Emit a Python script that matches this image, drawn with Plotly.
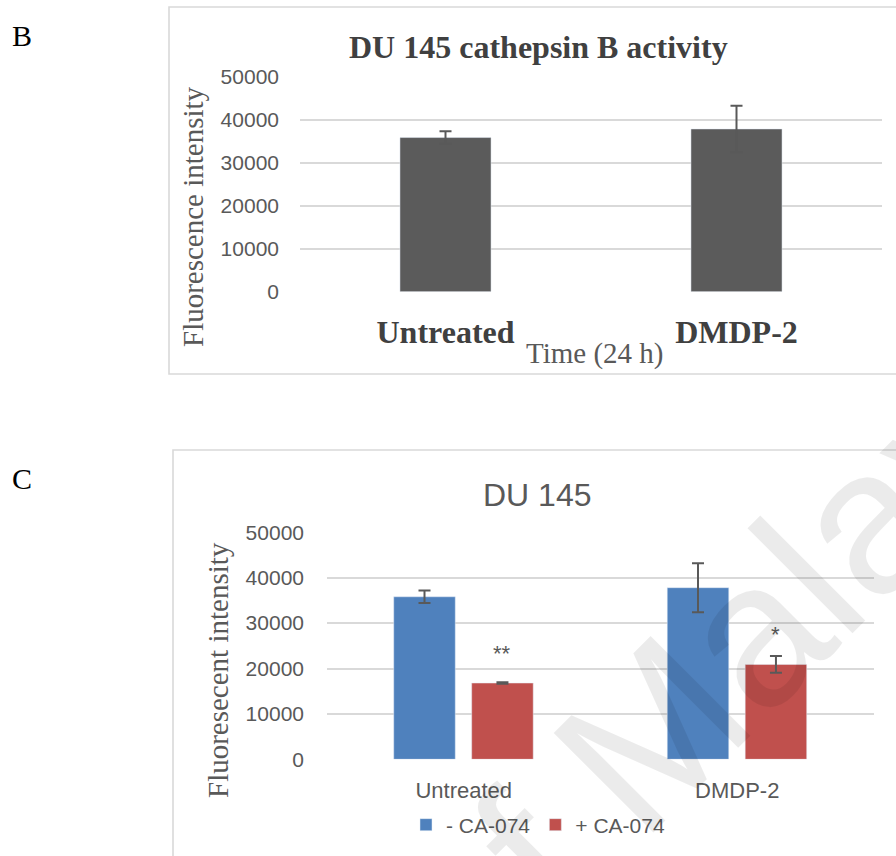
import plotly.graph_objects as go

W, H = 896, 856


def px(x):
    return x / W


def py(y):
    return 1 - y / H


# ---------------- data ----------------
categories = ["Untreated", "DMDP-2"]
b_values = [35900, 37900]
b_errors = [1450, 5400]
c_minus = [35800, 37800]
c_minus_err = [1400, 5400]
c_plus = [16800, 20900]
c_plus_err = [150, 1850]
c_sig = ["**", "*"]
y_ticks = [0, 10000, 20000, 30000, 40000, 50000]
series_names = ["- CA-074", "+ CA-074"]

# styles
SANS = "Liberation Sans"
SERIF = "Liberation Serif"
GRAY = "#595959"
GRID = "#d9d9d9"
C_W = 0.225
C_OFF = [-0.256, 0.029]
SIG_SHIFT = [14, 7]

fig = go.Figure()

fig.add_trace(go.Bar(
    x=categories, y=b_values, width=0.313,
    marker=dict(color="#5b5b5b"),
    error_y=dict(type="data", array=b_errors, color=GRAY, thickness=2, width=6),
    xaxis="x", yaxis="y", showlegend=False,
))

fig.add_trace(go.Bar(
    x=categories, y=c_minus, name=series_names[0], width=C_W, offset=C_OFF[0],
    marker=dict(color="#4f81bd"),
    error_y=dict(type="data", array=c_minus_err, color=GRAY, thickness=2, width=6),
    xaxis="x2", yaxis="y2",
))
fig.add_trace(go.Bar(
    x=categories, y=c_plus, name=series_names[1], width=C_W, offset=C_OFF[1],
    marker=dict(color="#c0504d"),
    error_y=dict(type="data", array=c_plus_err, color=GRAY, thickness=2, width=6),
    xaxis="x2", yaxis="y2",
))

yax = dict(range=[0, 50000], tickvals=y_ticks, ticktext=[str(v) for v in y_ticks],
           showgrid=True, gridcolor=GRID, gridwidth=1.6, zeroline=False, showline=False,
           ticks="", tickfont=dict(family=SANS, size=21, color=GRAY), ticklabelstandoff=20,
           automargin=False)

fig.update_layout(
    width=W, height=H, autosize=False,
    margin=dict(l=0, r=0, t=0, b=0, pad=0),
    paper_bgcolor="white", plot_bgcolor="white",
    barmode="group",
    xaxis=dict(domain=[px(300), px(882)], anchor="y", type="category",
               showgrid=False, zeroline=False, showline=False, ticks="", automargin=False,
               tickfont=dict(family=SERIF, size=32, color="#404040", weight="bold"),
               ticklabelstandoff=18),
    yaxis=dict(domain=[py(291.7), py(77)], anchor="x", **yax),
    xaxis2=dict(domain=[px(327), px(874)], anchor="y2", type="category",
                showgrid=False, zeroline=False, showline=False, ticks="", automargin=False,
                tickfont=dict(family=SANS, size=22, color=GRAY),
                ticklabelstandoff=16),
    yaxis2=dict(domain=[py(759.3), py(532.3)], anchor="x2", **dict(yax, ticklabelstandoff=22)),
    legend=dict(orientation="h", x=px(538), xanchor="center", y=py(825), yanchor="middle",
                font=dict(family=SANS, size=21, color=GRAY), bgcolor="rgba(0,0,0,0)",
                traceorder="normal"),
    showlegend=True,
)

# panel frames
fig.add_shape(type="rect", xref="paper", yref="paper", x0=px(169), x1=1.02, y0=py(374), y1=py(7),
              line=dict(color=GRID, width=1.6), layer="below")
fig.add_shape(type="rect", xref="paper", yref="paper", x0=px(173), x1=1.02, y0=-0.02, y1=py(450),
              line=dict(color=GRID, width=1.6), layer="below")

ann = []
ann.append(dict(text="B", x=px(22), y=py(36), font=dict(family=SERIF, size=30, color="black")))
ann.append(dict(text="C", x=px(22), y=py(478), font=dict(family=SERIF, size=30, color="black")))
ann.append(dict(text="<b>DU 145 cathepsin B activity</b>", x=px(538), y=py(47),
                font=dict(family=SERIF, size=32, color="#404040")))
ann.append(dict(text="DU 145", x=px(537), y=py(495), font=dict(family=SANS, size=32, color=GRAY)))
ann.append(dict(text="Fluorescence intensity", x=px(193), y=py(217), textangle=-90,
                font=dict(family=SERIF, size=29, color=GRAY)))
ann.append(dict(text="Fluoresecent intensity", x=px(218), y=py(670), textangle=-90,
                font=dict(family=SERIF, size=29, color=GRAY)))
ann.append(dict(text="Time (24 h)", x=px(595), y=py(354), font=dict(family=SERIF, size=29, color=GRAY)))
for a in ann:
    a.update(xref="paper", yref="paper", xanchor="center", yanchor="middle", showarrow=False)
    fig.add_annotation(**a)

# significance marks above the + CA-074 bars
for i, s in enumerate(c_sig):
    fig.add_annotation(x=i + C_OFF[1] + C_W / 2, y=c_plus[i] + c_plus_err[i], xref="x2", yref="y2",
                       text=s, showarrow=False, yanchor="bottom", yshift=SIG_SHIFT[i],
                       font=dict(family=SANS, size=22, color=GRAY))

# repository watermark
fig.add_annotation(text="of Malaya", xref="paper", yref="paper", x=px(744), y=py(640),
                   xanchor="center", yanchor="middle", textangle=-45, showarrow=False,
                   font=dict(family=SANS, size=205, color="rgba(0,0,0,0.08)"))

fig.write_html(
    "out.html",
    config={"displayModeBar": False},
    post_script="document.documentElement.style.margin='0';document.body.style.margin='0';"
                "document.documentElement.style.overflow='hidden';document.body.style.overflow='hidden';",
)
